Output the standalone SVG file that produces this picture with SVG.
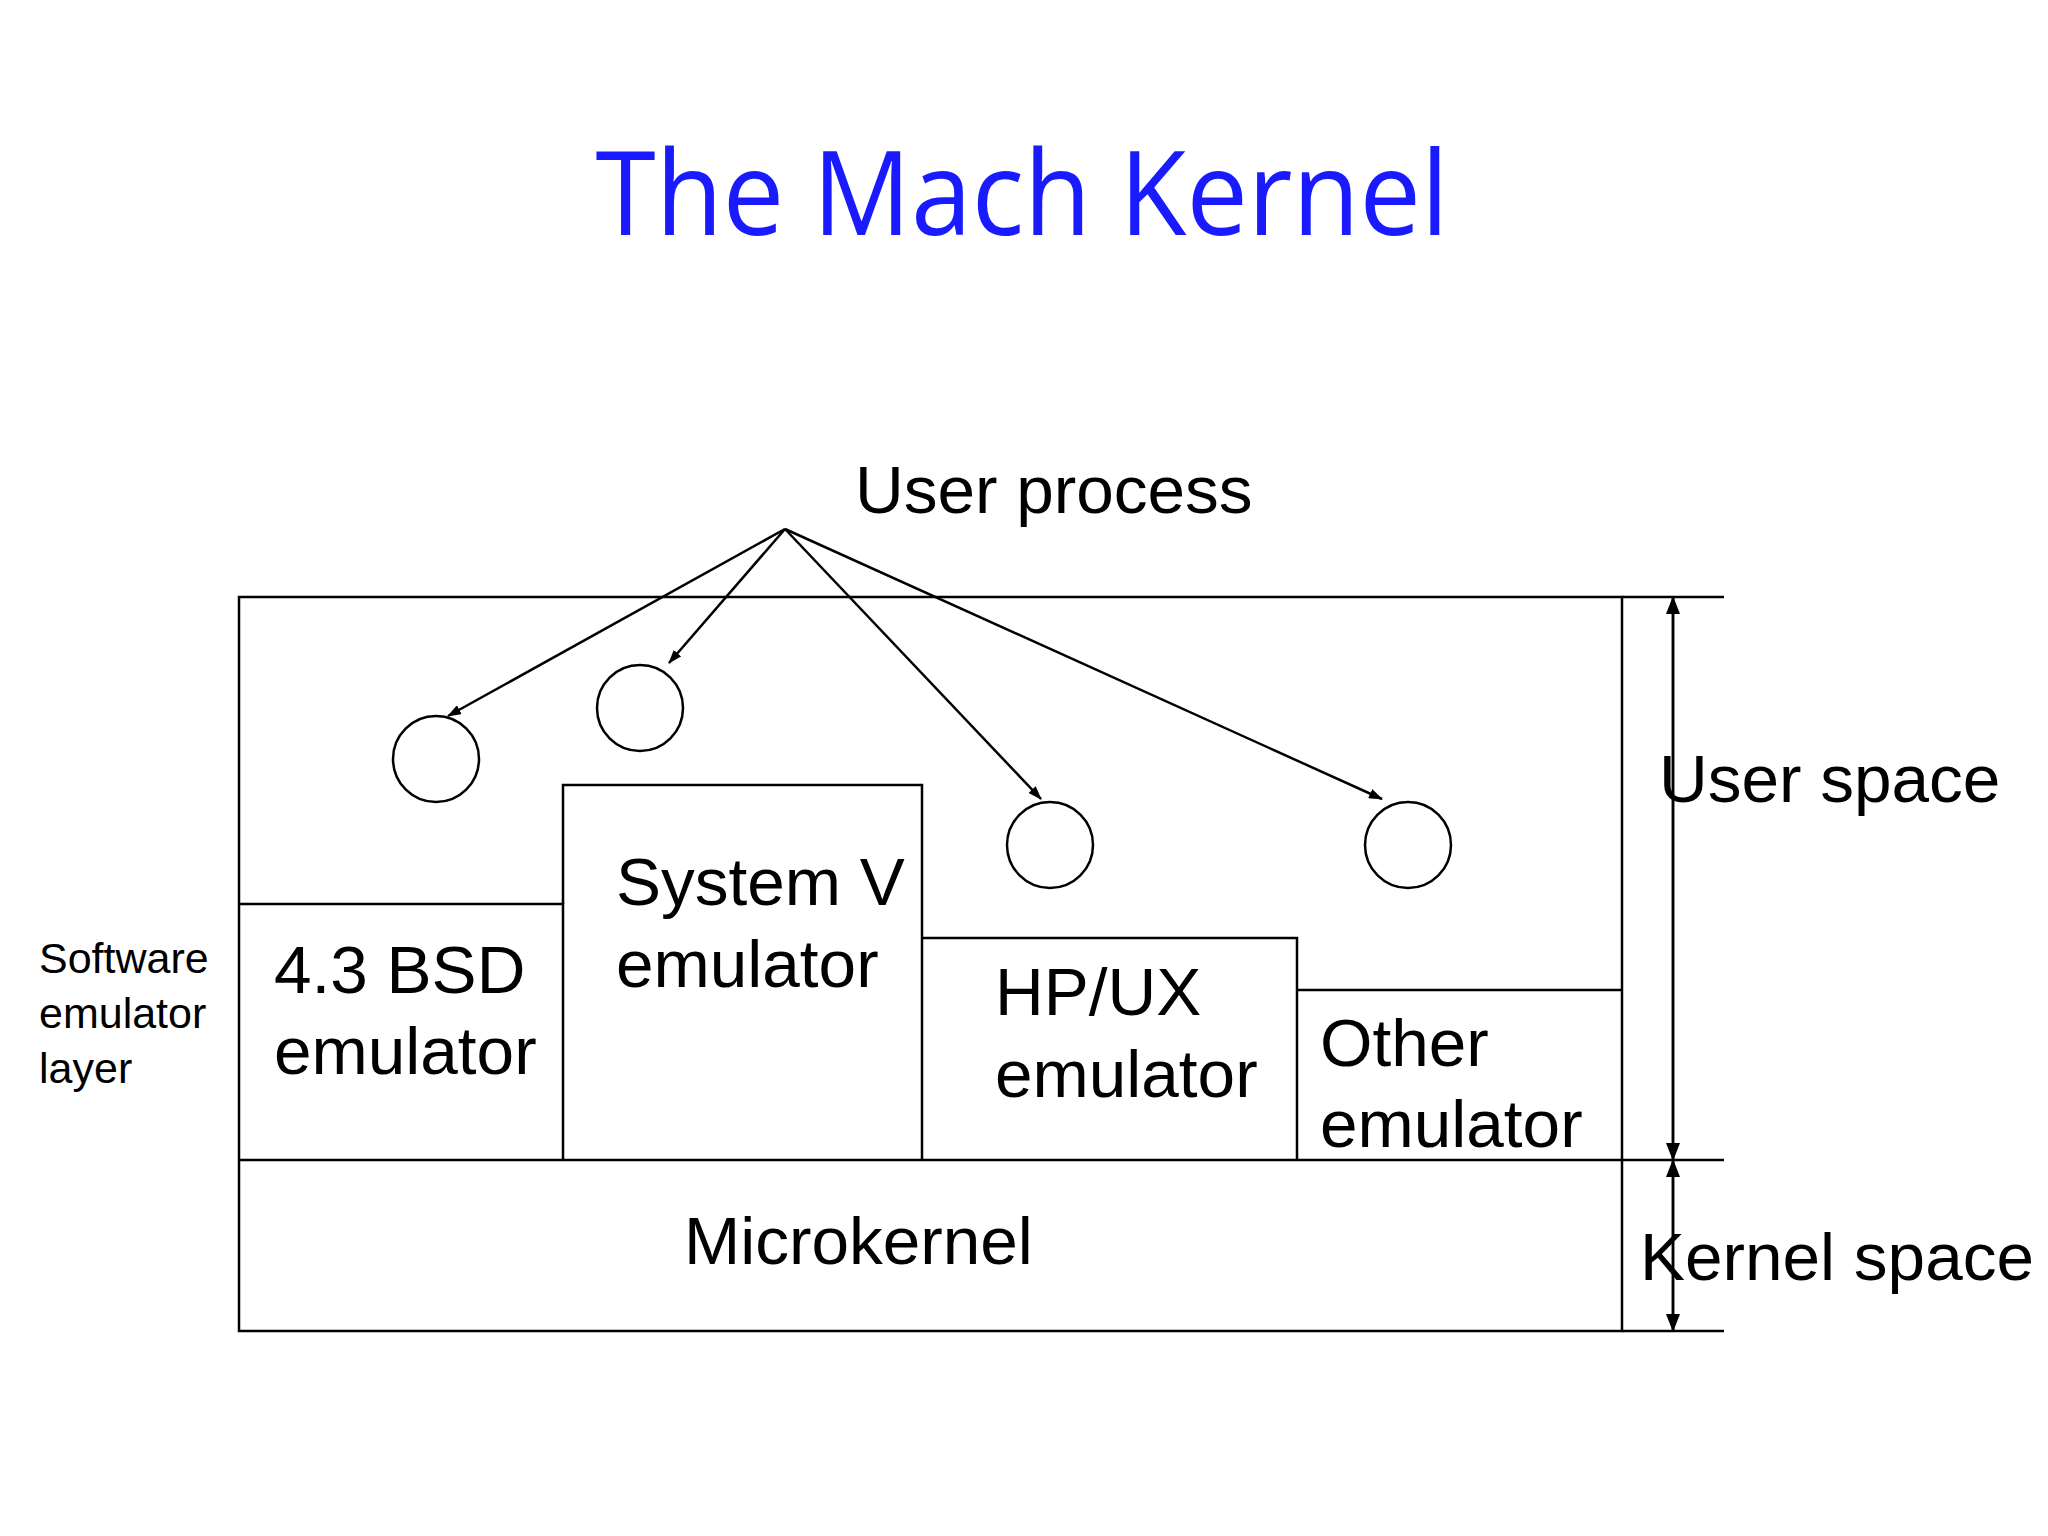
<svg xmlns="http://www.w3.org/2000/svg" width="2048" height="1536" viewBox="0 0 2048 1536">
<style>
.l{stroke:#000;stroke-width:2.5;fill:none}
.t{font-family:"Liberation Sans",Arial,sans-serif;fill:#000}
.b{font-size:67.5px}
</style>
<defs>
<marker id="a" markerWidth="14" markerHeight="10" refX="13" refY="5" orient="auto" markerUnits="userSpaceOnUse"><path d="M0,0L14,5L0,10z" fill="#000"/></marker>
<marker id="v" markerWidth="18" markerHeight="14" refX="17" refY="7" orient="auto" markerUnits="userSpaceOnUse"><path d="M0,0L18,7L0,14z" fill="#000"/></marker>
</defs>
<rect width="2048" height="1536" fill="#fff"/>
<text x="1022" y="235" text-anchor="middle" font-family="'Open Sans',sans-serif" font-size="118" fill="#1a1aff" textLength="853" lengthAdjust="spacingAndGlyphs">The Mach Kernel</text>
<g id="frame">
<rect class="l" x="239" y="597" width="1383" height="734"/>
<line class="l" x1="239" y1="1160" x2="1724" y2="1160"/>
<line class="l" x1="1622" y1="597" x2="1724" y2="597"/>
<line class="l" x1="1622" y1="1331" x2="1724" y2="1331"/>
</g>
<g id="microkernel"><text class="t b" x="684" y="1264">Microkernel</text></g>
<g id="bsd"><polyline class="l" points="239,904 563,904 563,1160"/><text class="t b" x="274" y="993">4.3 BSD</text><text class="t b" x="274" y="1074">emulator</text></g>
<g id="sysv"><polyline class="l" points="563,904 563,785 922,785 922,1160"/><text class="t b" x="616" y="905">System V</text><text class="t b" x="616" y="987">emulator</text></g>
<g id="hpux"><polyline class="l" points="922,938 1297,938 1297,1160"/><text class="t b" x="995" y="1015">HP/UX</text><text class="t b" x="995" y="1097">emulator</text></g>
<g id="other"><polyline class="l" points="1297,990 1622,990"/><text class="t b" x="1320" y="1066">Other</text><text class="t b" x="1320" y="1147">emulator</text></g>
<g id="procs">
<circle class="l" cx="436" cy="759" r="43"/>
<circle class="l" cx="640" cy="708" r="43"/>
<circle class="l" cx="1050" cy="845" r="43"/>
<circle class="l" cx="1408" cy="845" r="43"/>
</g>
<g id="labels">
<text class="t b" x="855" y="513">User process</text>
<text class="t b" x="1659" y="802">User space</text>
<text class="t b" x="1640" y="1280">Kernel space</text>
<text class="t" font-size="43" x="39" y="973">Software</text>
<text class="t" font-size="43" x="39" y="1028">emulator</text>
<text class="t" font-size="43" x="39" y="1083">layer</text>
</g>
<g id="connectors">
<line class="l" x1="785" y1="529" x2="448" y2="716" marker-end="url(#a)"/>
<line class="l" x1="785" y1="529" x2="669" y2="663" marker-end="url(#a)"/>
<line class="l" x1="785" y1="529" x2="1041" y2="799" marker-end="url(#a)"/>
<line class="l" x1="785" y1="529" x2="1382" y2="799" marker-end="url(#a)"/>
<line class="l" x1="1673" y1="1160" x2="1673" y2="597" marker-end="url(#v)"/>
<line class="l" x1="1673" y1="597" x2="1673" y2="1160" marker-end="url(#v)"/>
<line class="l" x1="1673" y1="1331" x2="1673" y2="1160" marker-end="url(#v)"/>
<line class="l" x1="1673" y1="1160" x2="1673" y2="1331" marker-end="url(#v)"/>
</g>
</svg>
